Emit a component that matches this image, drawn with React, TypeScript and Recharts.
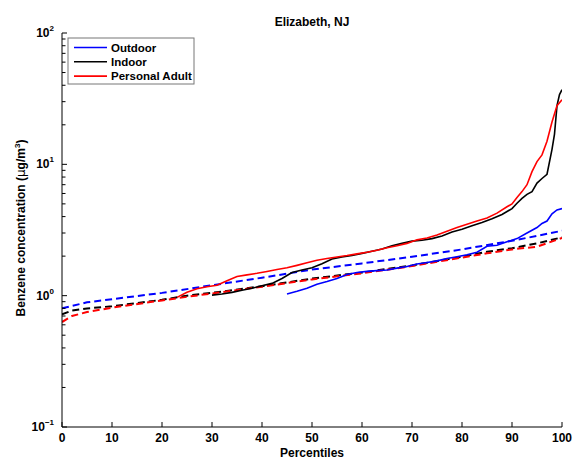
import React from "react"
import { LineChart, Line, XAxis, YAxis } from "recharts"

// measured percentiles (solid) [percentile, concentration]
const outdoor: [number, number][] = [
  [45, 1.03], [47, 1.08], [49, 1.14], [51, 1.22], [53, 1.28], [55, 1.35], [57, 1.45],
  [59, 1.5], [61, 1.53], [63, 1.55], [65, 1.57], [67, 1.62], [69, 1.67], [71, 1.74],
  [73, 1.79], [75, 1.84], [77, 1.92], [79, 1.98], [81, 2.05], [83, 2.14], [85, 2.38],
  [87, 2.42], [89, 2.57], [91, 2.72], [93, 3.0], [95, 3.3], [96, 3.55], [97, 3.7],
  [98, 4.2], [99, 4.5], [100, 4.6],
]
const indoor: [number, number][] = [
  [30, 1.01], [32, 1.03], [34, 1.06], [36, 1.1], [38, 1.14], [40, 1.19], [42, 1.24],
  [44, 1.35], [46, 1.5], [48, 1.57], [50, 1.63], [52, 1.75], [54, 1.9], [56, 1.97],
  [58, 2.02], [60, 2.1], [62, 2.18], [64, 2.27], [66, 2.4], [68, 2.5], [70, 2.6],
  [72, 2.64], [74, 2.72], [76, 2.85], [78, 3.05], [80, 3.2], [82, 3.4], [84, 3.6],
  [86, 3.85], [88, 4.15], [90, 4.6], [91, 5.05], [92, 5.5], [93, 5.9], [94, 6.2],
  [95, 7.2], [96, 7.8], [97, 8.4], [98, 13], [98.5, 17], [99, 28], [99.5, 34], [100, 37],
]
const personal: [number, number][] = [
  [23, 0.97], [25, 1.06], [27, 1.13], [29, 1.17], [31, 1.2], [33, 1.3], [35, 1.4],
  [37, 1.44], [39, 1.48], [41, 1.53], [43, 1.58], [45, 1.63], [47, 1.7], [49, 1.78],
  [51, 1.86], [53, 1.92], [55, 1.97], [57, 2.02], [59, 2.08], [61, 2.14], [63, 2.22],
  [65, 2.32], [67, 2.4], [69, 2.5], [71, 2.66], [73, 2.75], [75, 2.9], [77, 3.1],
  [79, 3.3], [81, 3.5], [83, 3.7], [85, 3.9], [87, 4.25], [89, 4.75], [90, 5.0],
  [91, 5.6], [92, 6.2], [93, 7.0], [94, 8.8], [95, 10.5], [96, 11.8], [97, 15],
  [98, 21], [99, 28], [100, 31],
]

// fitted distributions (dashed)
const outdoorFit: [number, number][] = [
  [0, 0.8], [5, 0.89], [10, 0.94], [20, 1.05], [30, 1.2], [40, 1.37], [50, 1.58],
  [60, 1.76], [70, 1.98], [80, 2.25], [90, 2.62], [95, 2.85], [100, 3.12],
]
const indoorFit: [number, number][] = [
  [0, 0.72], [2, 0.77], [5, 0.8], [10, 0.83], [20, 0.93], [25, 1.0], [30, 1.05], [40, 1.18],
  [50, 1.35], [60, 1.5], [70, 1.7], [80, 1.98], [85, 2.16], [90, 2.3], [95, 2.5], [100, 2.78],
]
const personalFit: [number, number][] = [
  [0, 0.63], [2, 0.7], [5, 0.75], [10, 0.81], [20, 0.92], [25, 0.98], [30, 1.04], [40, 1.17],
  [50, 1.33], [60, 1.48], [70, 1.68], [80, 1.95], [85, 2.1], [90, 2.25], [95, 2.36], [100, 2.75],
]

const xTicks = [0, 10, 20, 30, 40, 50, 60, 70, 80, 90, 100]
const yTicks: number[] = []
for (const d of [0.1, 1, 10]) for (let k = 1; k <= 9; k++) yTicks.push(+(d * k).toPrecision(3))
yTicks.push(100)

const legendItems = [
  { name: "Outdoor", color: "#0000ff" },
  { name: "Indoor", color: "#000000" },
  { name: "Personal Adult", color: "#ff0000" },
]

const toRows = (a: [number, number][]) => a.map(([p, v]) => ({ p, v }))

const FONT = "'Liberation Sans', Arial, Helvetica, sans-serif"

const isMajor = (v: number) => Math.abs(Math.log10(v) - Math.round(Math.log10(v))) < 1e-6

const LeftTick = (props: any) => {
  const { x, y, payload } = props
  const v = payload.value
  const major = isMajor(v)
  const e = Math.round(Math.log10(v))
  return (
    <g>
      <line x1={x} x2={x + (major ? 5 : 3.5)} y1={y} y2={y} stroke="#000" />
      {major && (
        <text x={x - 8} y={y + 4} textAnchor="end" fontFamily={FONT} fontWeight="bold" fontSize={12} fill="#000">
          10<tspan dy={-6} fontSize={8}>{e < 0 ? "\u22121" : String(e)}</tspan>
        </text>
      )}
    </g>
  )
}

const RightTick = (props: any) => {
  const { x, y, payload } = props
  const major = isMajor(payload.value)
  return <line x1={x} x2={x - (major ? 5 : 3.5)} y1={y} y2={y} stroke="#000" />
}

const BottomTick = (props: any) => {
  const { x, y, payload } = props
  return (
    <g>
      <line x1={x} x2={x} y1={y} y2={y - 5} stroke="#000" />
      <text x={x} y={y + 15} textAnchor="middle" fontFamily={FONT} fontWeight="bold" fontSize={12} fill="#000">
        {payload.value}
      </text>
    </g>
  )
}

const TopTick = (props: any) => {
  const { x, y } = props
  return <line x1={x} x2={x} y1={y} y2={y + 5} stroke="#000" />
}

export default function App() {
  return (
    <div style={{ position: "relative", width: 577, height: 461, background: "#fff" }}>
      <style>{`body{margin:0}`}</style>
      <LineChart width={577} height={461} margin={{ top: 33, right: 15, bottom: 0, left: 0 }}>
        <XAxis
          xAxisId="b"
          type="number"
          dataKey="p"
          domain={[0, 100]}
          ticks={xTicks}
          interval={0}
          height={34}
          tickSize={0}
          tickMargin={0}
          tick={<BottomTick />}
          axisLine={{ stroke: "#000" }}
          tickLine={false}
          allowDataOverflow
        />
        <XAxis
          xAxisId="t"
          orientation="top"
          type="number"
          dataKey="p"
          domain={[0, 100]}
          ticks={xTicks}
          interval={0}
          height={0}
          tickSize={0}
          tickMargin={0}
          tick={<TopTick />}
          axisLine={{ stroke: "#000" }}
          tickLine={false}
          allowDataOverflow
        />
        <YAxis
          yAxisId="l"
          scale="log"
          type="number"
          domain={[0.1, 100]}
          ticks={yTicks}
          interval={0}
          width={62}
          tickSize={0}
          tickMargin={0}
          tick={<LeftTick />}
          axisLine={{ stroke: "#000" }}
          tickLine={false}
          allowDataOverflow
        />
        <YAxis
          yAxisId="r"
          orientation="right"
          scale="log"
          type="number"
          domain={[0.1, 100]}
          ticks={yTicks}
          interval={0}
          width={0}
          tickSize={0}
          tickMargin={0}
          tick={<RightTick />}
          axisLine={{ stroke: "#000" }}
          tickLine={false}
          allowDataOverflow
        />
        <Line xAxisId="b" yAxisId="l" data={toRows(outdoorFit)} dataKey="v" stroke="#0000ff" strokeWidth={2} strokeDasharray="7 4" dot={false} isAnimationActive={false} />
        <Line xAxisId="b" yAxisId="l" data={toRows(indoorFit)} dataKey="v" stroke="#000000" strokeWidth={2} strokeDasharray="7 4" dot={false} isAnimationActive={false} />
        <Line xAxisId="b" yAxisId="l" data={toRows(personalFit)} dataKey="v" stroke="#ff0000" strokeWidth={2} strokeDasharray="7 4" dot={false} isAnimationActive={false} />
        <Line xAxisId="b" yAxisId="l" data={toRows(outdoor)} dataKey="v" stroke="#0000ff" strokeWidth={1.6} dot={false} isAnimationActive={false} />
        <Line xAxisId="b" yAxisId="l" data={toRows(indoor)} dataKey="v" stroke="#000000" strokeWidth={1.6} dot={false} isAnimationActive={false} />
        <Line xAxisId="b" yAxisId="l" data={toRows(personal)} dataKey="v" stroke="#ff0000" strokeWidth={1.6} dot={false} isAnimationActive={false} />
      </LineChart>
      <svg width={577} height={461} style={{ position: "absolute", left: 0, top: 0, pointerEvents: "none" }}>
        <text x={312} y={26} textAnchor="middle" fontFamily={FONT} fontWeight="bold" fontSize={12}>
          Elizabeth, NJ
        </text>
        <text x={312} y={457} textAnchor="middle" fontFamily={FONT} fontWeight="bold" fontSize={12}>
          Percentiles
        </text>
        <text transform="translate(25,228) rotate(-90)" textAnchor="middle" fontFamily={FONT} fontWeight="bold" fontSize={12}>
          Benzene concentration (<tspan fontWeight="normal" fontFamily="'DejaVu Sans', sans-serif">μ</tspan>g/m
          <tspan dy={-5} fontSize={8}>3</tspan>
          <tspan dy={5}>)</tspan>
        </text>
        <rect x={68} y={38} width={126} height={46} fill="#fff" stroke="#777" />
        {legendItems.map((it, i) => {
          const y = 47.5 + i * 14.3
          return (
            <g key={it.name}>
              <line x1={74} x2={107} y1={y} y2={y} stroke={it.color} strokeWidth={1.6} />
              <text x={111} y={y + 4} fontFamily={FONT} fontWeight="bold" fontSize={11.5}>
                {it.name}
              </text>
            </g>
          )
        })}
      </svg>
    </div>
  )
}
